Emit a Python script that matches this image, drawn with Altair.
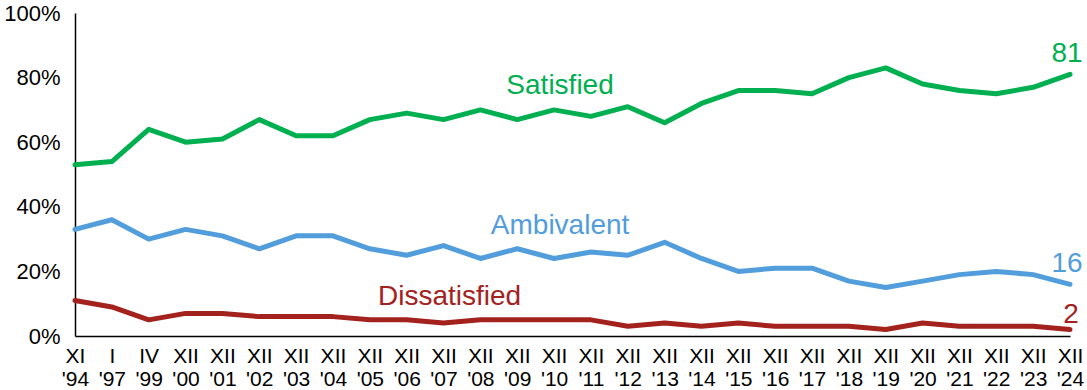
import altair as alt
import pandas as pd

periods = ["XI|'94", "I|'97", "IV|'99", "XII|'00", "XII|'01", "XII|'02", "XII|'03",
           "XII|'04", "XII|'05", "XII|'06", "XII|'07", "XII|'08", "XII|'09", "XII|'10",
           "XII|'11", "XII|'12", "XII|'13", "XII|'14", "XII|'15", "XII|'16", "XII|'17",
           "XII|'18", "XII|'19", "XII|'20", "XII|'21", "XII|'22", "XII|'23", "XII|'24"]

satisfied = [53, 54, 64, 60, 61, 67, 62, 62, 67, 69, 67, 70, 67, 70, 68, 71, 66, 72,
             76, 76, 75, 80, 83, 78, 76, 75, 77, 81]
ambivalent = [33, 36, 30, 33, 31, 27, 31, 31, 27, 25, 28, 24, 27, 24, 26, 25, 29, 24,
              20, 21, 21, 17, 15, 17, 19, 20, 19, 16]
dissatisfied = [11, 9, 5, 7, 7, 6, 6, 6, 5, 5, 4, 5, 5, 5, 5, 3, 4, 3, 4, 3, 3, 3, 2,
                4, 3, 3, 3, 2]

series_names = ["Satisfied", "Ambivalent", "Dissatisfied"]
series_colors = ["#00B050", "#529DDB", "#A3221E"]

rows = []
for name, vals in zip(series_names, [satisfied, ambivalent, dissatisfied]):
    for p, v in zip(periods, vals):
        rows.append({"series": name, "period": p, "value": v})
df = pd.DataFrame(rows)

# series name annotations: (text, anchor period, anchor value)
ann_text = ["Satisfied", "Ambivalent", "Dissatisfied"]
ann_period = ["XII|'10", "XII|'10", "XII|'07"]
ann_value = [75, 31.6, 9.6]
ann_df = pd.DataFrame({"series": ann_text, "period": ann_period, "value": ann_value})

FONT = "Liberation Sans"

x_enc = alt.X("period:O", sort=periods,
              scale=alt.Scale(type="point", padding=0),
              axis=alt.Axis(title=None, labelExpr="split(datum.label, '|')",
                            labelAngle=0, ticks=False, grid=False,
                            labelFontSize=21, labelLineHeight=23, labelPadding=9,
                            labelColor="#000", labelFont=FONT,
                            domainColor="#000", domainWidth=1.5))
y_enc = alt.Y("value:Q", scale=alt.Scale(domain=[0, 100], nice=False),
              axis=alt.Axis(title=None, values=[0, 20, 40, 60, 80, 100],
                            labelExpr="datum.value + '%'", ticks=False, grid=False,
                            labelFontSize=22, labelPadding=15, labelColor="#000",
                            labelFont=FONT, domainColor="#000", domainWidth=1.5))
color_enc = alt.Color("series:N", scale=alt.Scale(domain=series_names, range=series_colors),
                      legend=None)

lines = alt.Chart(df).mark_line(strokeWidth=5, strokeCap="round", strokeJoin="round").encode(
    x=x_enc, y=y_enc, color=color_enc, detail="series:N")

ann = alt.Chart(ann_df).mark_text(fontSize=28, font=FONT, align="center",
                                  baseline="alphabetic", dx=6).encode(
    x=alt.X("period:O", sort=periods), y="value:Q", text="series:N", color=color_enc)

last = df[df["period"] == periods[-1]].copy()
end_s = alt.Chart(last[last["series"] == "Satisfied"]).mark_text(
    fontSize=28, font=FONT, align="center", baseline="alphabetic", dx=-3, dy=-12).encode(
    x=alt.X("period:O", sort=periods), y="value:Q", text="value:Q", color=color_enc)
end_a = alt.Chart(last[last["series"] == "Ambivalent"]).mark_text(
    fontSize=28, font=FONT, align="center", baseline="alphabetic", dx=-3, dy=-12).encode(
    x=alt.X("period:O", sort=periods), y="value:Q", text="value:Q", color=color_enc)
end_d = alt.Chart(last[last["series"] == "Dissatisfied"]).mark_text(
    fontSize=28, font=FONT, align="center", baseline="alphabetic", dx=1, dy=-7).encode(
    x=alt.X("period:O", sort=periods), y="value:Q", text="value:Q", color=color_enc)

chart = alt.layer(lines, ann, end_s, end_a, end_d).properties(
    width=995, height=323,
    autosize=alt.AutoSizeParams(type="none"),
    padding={"left": 75, "top": 13, "right": 17, "bottom": 54},
    background="white",
).configure_view(stroke=None)

chart.save("out.html", embed_options={"renderer": "svg", "actions": False})
